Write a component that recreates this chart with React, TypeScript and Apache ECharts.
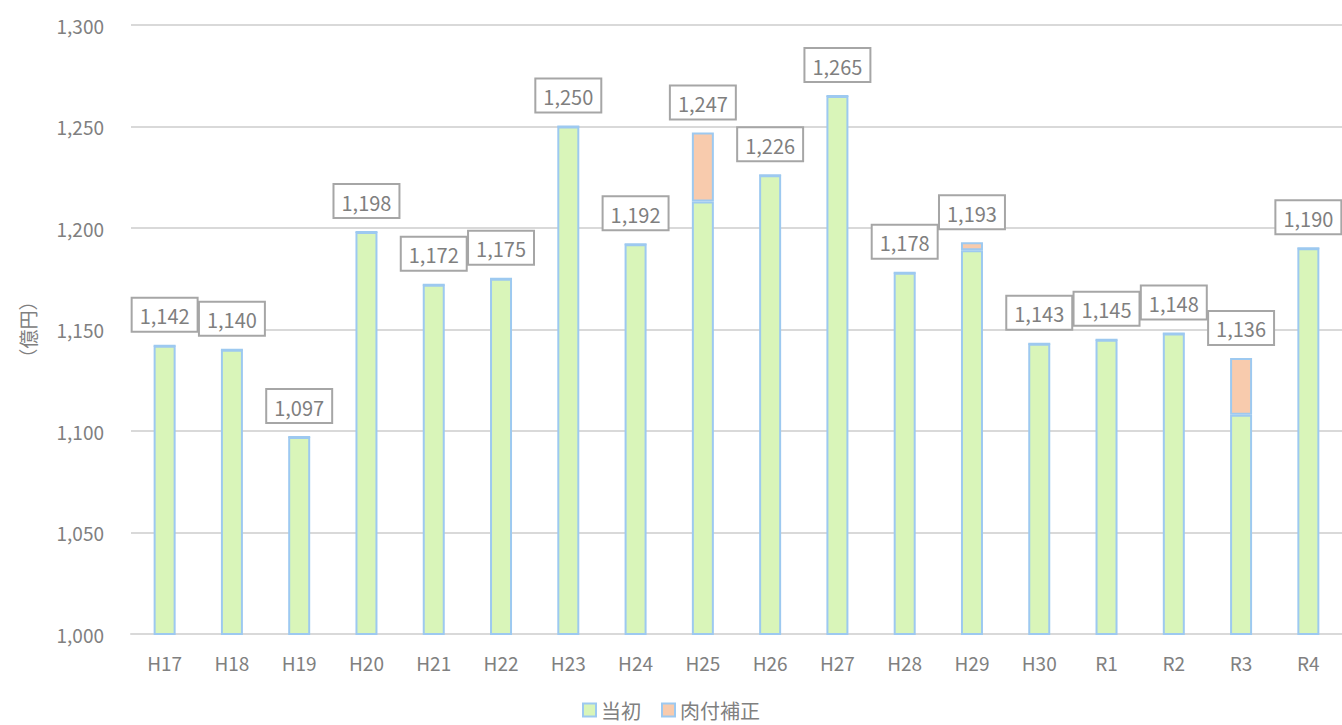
import React, { useEffect, useRef } from "react";
import * as echarts from "echarts";

const categories = ["H17","H18","H19","H20","H21","H22","H23","H24","H25","H26","H27","H28","H29","H30","R1","R2","R3","R4"];
const initialValues = [1142,1140,1097,1198,1172,1175,1250,1192,1213,1226,1265,1178,1189,1143,1145,1148,1108,1190];
const supplementValues = [0,0,0,0,0,0,0,0,34,0,0,0,4,0,0,0,28,0];
const yTicks = { min: 1000, max: 1300, interval: 50 };

const FONT = "'Noto Sans CJK JP', 'Noto Sans', sans-serif";

export default function App() {
  const ref = useRef<HTMLDivElement>(null);
  useEffect(() => {
    if (!ref.current) return;
    const chart = echarts.init(ref.current, null, { renderer: "svg" });
    const totals = initialValues.map((v, i) => v + supplementValues[i]);
    chart.setOption({
      animation: false,
      textStyle: { fontFamily: FONT },
      grid: { left: 131, right: 0, top: 25, bottom: 91 },
      legend: {
        bottom: 0,
        left: "center",
        itemWidth: 13,
        itemHeight: 13,
        itemGap: 20,
        icon: "rect",
        textStyle: { color: "#808080", fontSize: 20, fontFamily: FONT },
        data: ["当初", "肉付補正"],
      },
      xAxis: {
        type: "category",
        data: categories,
        axisLine: { lineStyle: { color: "#D9D9D9", width: 2 } },
        axisTick: { show: false },
        axisLabel: { color: "#808080", fontSize: 19, margin: 19, fontFamily: FONT },
      },
      yAxis: {
        type: "value",
        min: yTicks.min,
        max: yTicks.max,
        interval: yTicks.interval,
        name: "（億円）",
        nameLocation: "middle",
        nameRotate: 90,
        nameGap: 94,
        nameTextStyle: { color: "#808080", fontSize: 19, fontFamily: FONT },
        axisLine: { show: false },
        axisTick: { show: false },
        splitLine: { lineStyle: { color: "#D9D9D9", width: 2 } },
        axisLabel: {
          color: "#808080",
          fontSize: 19,
          margin: 27,
          fontFamily: FONT,
          formatter: (v: number) => v.toLocaleString("en-US"),
        },
      },
      series: [
        {
          name: "当初",
          type: "bar",
          stack: "total",
          barWidth: 22,
          data: initialValues,
          itemStyle: { color: "#D9F5B9", borderColor: "#9DC9F0", borderWidth: 2 },
        },
        {
          name: "肉付補正",
          type: "bar",
          stack: "total",
          barWidth: 22,
          data: supplementValues,
          itemStyle: { color: "#F8CBAD", borderColor: "#9DC9F0", borderWidth: 2 },
          label: {
            show: true,
            position: "top",
            distance: 14,
            formatter: (p: any) => totals[p.dataIndex].toLocaleString("en-US"),
            color: "#7F7F7F",
            fontSize: 20,
            fontFamily: FONT,
            backgroundColor: "#FFFFFF",
            borderColor: "#A6A6A6",
            borderWidth: 2,
            padding: [7, 7, 5, 7],
          },
        },
      ],
    });
    return () => chart.dispose();
  }, []);
  return <div ref={ref} style={{ width: 1342, height: 725, position: "absolute", left: 0, top: 0 }} />;
}
